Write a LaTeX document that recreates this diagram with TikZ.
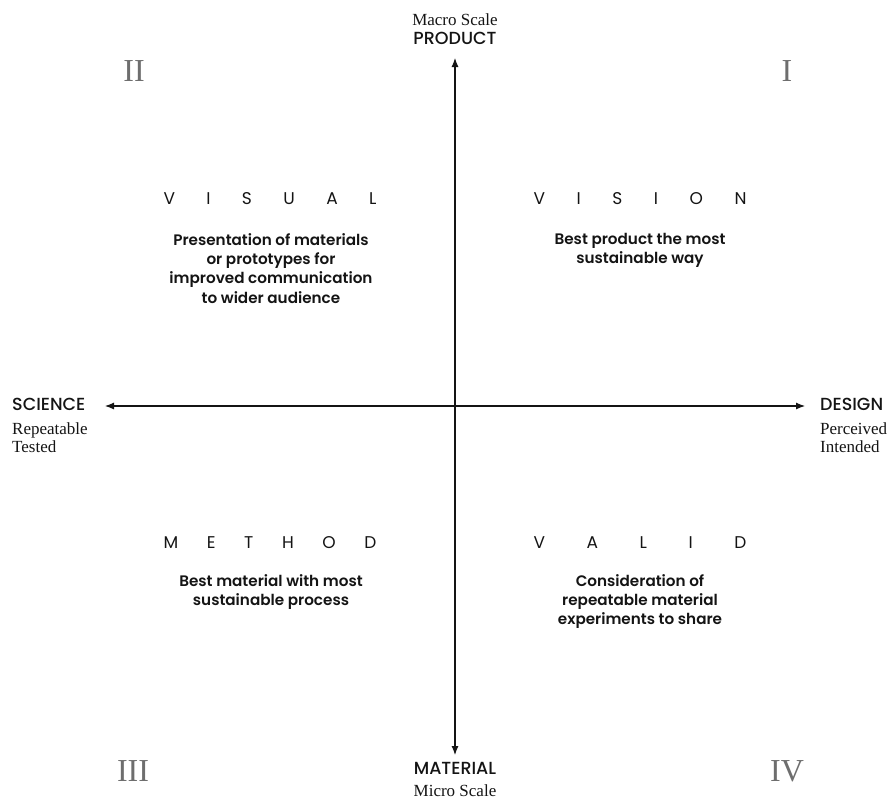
\documentclass[tikz,border=0pt]{standalone}
\usepackage{fontspec}
\setmainfont{Liberation Serif}
\setsansfont{Poppins}
\newfontfamily\medfont{Poppins Medium}
\newfontfamily\boldfont{Poppins SemiBold}
\usetikzlibrary{arrows.meta}

\definecolor{numgray}{RGB}{110,110,110}
\definecolor{inkblack}{RGB}{20,20,20}

\newcommand{\spreadword}[1]{\makebox[213pt][s]{#1}}

\tikzset{
  axis/.style={line width=1.1pt, draw=inkblack, {Latex[length=9pt,width=7pt]}-{Latex[length=9pt,width=7pt]}},
  quadnum/.style={font=\fontsize{32}{32}\selectfont, text=numgray, inner sep=0pt},
  quadtitle/.style={font=\sffamily\fontsize{17}{17}\selectfont, text=inkblack, inner sep=0pt, anchor=mid},
  quadbody/.style={font=\boldfont\fontsize{15.2}{19.3}\selectfont, text=inkblack, align=center, inner sep=0pt, anchor=north},
  axislabel/.style={font=\medfont\fontsize{17.5}{17.5}\selectfont, text=inkblack, inner sep=0pt},
  scalelabel/.style={font=\fontsize{17}{17}\selectfont, text=inkblack, inner sep=0pt},
}

\begin{document}
\begin{tikzpicture}[x=1pt,y=-1pt]
  \useasboundingbox (0,0) rectangle (891,801);

  % axes
  \coordinate (top) at (455,58);
  \coordinate (bottom) at (455,755);
  \coordinate (left) at (105,406);
  \coordinate (right) at (805,406);
  \draw[axis] (top) -- (bottom);
  \draw[axis] (left) -- (right);

  % axis labels
  \node[scalelabel, anchor=mid] (macro) at (455,23) {Macro Scale};
  \node[axislabel, anchor=mid] (product) at (455,42) {PRODUCT};
  \node[axislabel, anchor=mid] (material) at (455,772) {MATERIAL};
  \node[scalelabel, anchor=mid] (micro) at (455,794) {Micro Scale};
  \node[axislabel, anchor=mid west] (science) at (12,408) {SCIENCE};
  \node[scalelabel, anchor=mid west] (repeatable) at (12,432) {Repeatable};
  \node[scalelabel, anchor=mid west] (tested) at (12,450) {Tested};
  \node[axislabel, anchor=mid west] (design) at (820,408) {DESIGN};
  \node[scalelabel, anchor=mid west] (perceived) at (820,432) {Perceived};
  \node[scalelabel, anchor=mid west] (intended) at (820,450) {Intended};

  % quadrant numbers
  \node[quadnum] (q1) at (787,71) {I};
  \node[quadnum] (q2) at (134,71) {II};
  \node[quadnum] (q3) at (133,771) {III};
  \node[quadnum] (q4) at (787,771) {IV};

  % quadrant texts
  \node[quadtitle] (visual) at (270,202) {\spreadword{V\hfill I\hfill S\hfill U\hfill A\hfill L}};
  \node[quadbody] (visualtext) at (271,233) {Presentation of materials\\or prototypes for\\improved communication\\to wider audience};
  \node[quadtitle] (vision) at (640,202) {\spreadword{V\hfill I\hfill S\hfill I\hfill O\hfill N}};
  \node[quadbody] (visiontext) at (640,233) {Best product the most\\sustainable way};
  \node[quadtitle] (method) at (270,546) {\spreadword{M\hfill E\hfill T\hfill H\hfill O\hfill D}};
  \node[quadbody] (methodtext) at (271,574) {Best material with most\\sustainable process};
  \node[quadtitle] (valid) at (640,546) {\spreadword{V\hfill A\hfill L\hfill I\hfill D}};
  \node[quadbody] (validtext) at (640,574) {Consideration of\\repeatable material\\experiments to share};
\end{tikzpicture}
\end{document}
